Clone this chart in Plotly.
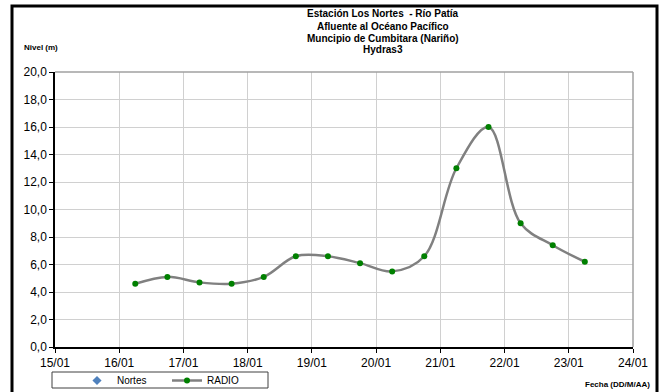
import plotly.graph_objects as go

# Mediciones de nivel (m) – telemetría RADIO, cada 12 h
fechas = [
    "2010-01-16 06:00", "2010-01-16 18:00", "2010-01-17 06:00", "2010-01-17 18:00",
    "2010-01-18 06:00", "2010-01-18 18:00", "2010-01-19 06:00", "2010-01-19 18:00",
    "2010-01-20 06:00", "2010-01-20 18:00", "2010-01-21 06:00", "2010-01-21 18:00",
    "2010-01-22 06:00", "2010-01-22 18:00", "2010-01-23 06:00",
]
nivel_radio = [4.6, 5.1, 4.7, 4.6, 5.1, 6.6, 6.6, 6.1, 5.5, 6.6, 13.0, 16.0, 9.0, 7.4, 6.2]

# Serie Nortes (sin registros en el periodo)
fechas_nortes = [None]
nivel_nortes = [None]

titulo = [
    "Estación Los Nortes  - Río Patía",
    "Afluente al Océano Pacífico",
    "Muncipio de Cumbitara (Nariño)",
    "Hydras3",
]

FONT = "Liberation Sans, Arial, sans-serif"

fig = go.Figure()
fig.add_trace(go.Scatter(
    x=fechas_nortes, y=nivel_nortes, name="Nortes", mode="markers",
    marker=dict(symbol="diamond", color="#4F81BD", size=7),
))
fig.add_trace(go.Scatter(
    x=fechas, y=nivel_radio, name="RADIO", mode="lines+markers",
    line=dict(color="#808080", width=2.5, shape="spline", smoothing=1.0),
    marker=dict(color="#008000", size=6),
))

L, R, T, B = 55, 31, 72, 45
W, H = 664, 392
pw, ph = W - L - R, H - T - B

def px(xp):
    return (xp - L) / pw

def py(yp):
    return (H - B - yp) / ph

annotations = [
    dict(text=f"<b>{t}</b>", xref="paper", yref="paper",
         x=px(383), y=py(14 + 12 * i), xanchor="center", yanchor="middle",
         showarrow=False, font=dict(family=FONT, size=10))
    for i, t in enumerate(titulo)
]
annotations += [
    dict(text="<b>Nivel (m)</b>", xref="paper", yref="paper",
         x=px(22), y=py(47), xanchor="left", yanchor="middle",
         showarrow=False, font=dict(family=FONT, size=8)),
    dict(text="<b>Fecha (DD/M/AA)</b>", xref="paper", yref="paper",
         x=px(652), y=py(384), xanchor="right", yanchor="middle",
         showarrow=False, font=dict(family=FONT, size=8)),
]

fig.update_layout(
    width=W, height=H,
    margin=dict(l=L, r=R, t=T, b=B, autoexpand=False),
    paper_bgcolor="white", plot_bgcolor="white",
    separators=",.",
    font=dict(family=FONT, size=12, color="black"),
    showlegend=True,
    # leyenda sin marco propio; el recuadro se dibuja como forma
    legend=dict(
        orientation="h", x=px(77), y=py(366), xanchor="left", yanchor="top",
        bgcolor="rgba(0,0,0,0)", borderwidth=0,
        font=dict(family=FONT, size=10), itemwidth=30,
        entrywidth=45, tracegroupgap=0, indentation=0,
    ),
    xaxis=dict(
        type="date", range=["2010-01-15", "2010-01-24"],
        dtick=86400000, tick0="2010-01-15", tickformat="%d/%m",
        showgrid=True, gridcolor="#D0D0D0", gridwidth=1,
        showline=True, linecolor="black", linewidth=1.5,
        ticks="outside", ticklen=4, tickcolor="black",
        tickfont=dict(family=FONT, size=12), zeroline=False,
    ),
    yaxis=dict(
        range=[0, 20], dtick=2, tickformat=".1f",
        showgrid=True, gridcolor="#D0D0D0", gridwidth=1,
        showline=True, linecolor="black", linewidth=1.5,
        ticks="outside", ticklen=4, tickcolor="black",
        tickfont=dict(family=FONT, size=12), zeroline=False,
    ),
    shapes=[
        # marco gris superior y derecho del área de trazado
        dict(type="line", xref="paper", yref="paper", x0=0, x1=1, y0=1, y1=1,
             line=dict(color="#A0A0A0", width=1.5)),
        dict(type="line", xref="paper", yref="paper", x0=1, x1=1, y0=0, y1=1,
             line=dict(color="#A0A0A0", width=1.5)),
        # recuadro de la leyenda
        dict(type="rect", xref="paper", yref="paper",
             x0=px(52), x1=px(268), y0=py(388), y1=py(372),
             line=dict(color="#404040", width=1), fillcolor="white",
             layer="above"),
        # marco exterior del gráfico
        dict(type="rect", xref="paper", yref="paper",
             x0=px(12), x1=px(657), y0=py(396), y1=py(6),
             line=dict(color="black", width=3), layer="above"),
    ],
    annotations=annotations,
)

fig.write_html("out.html")
